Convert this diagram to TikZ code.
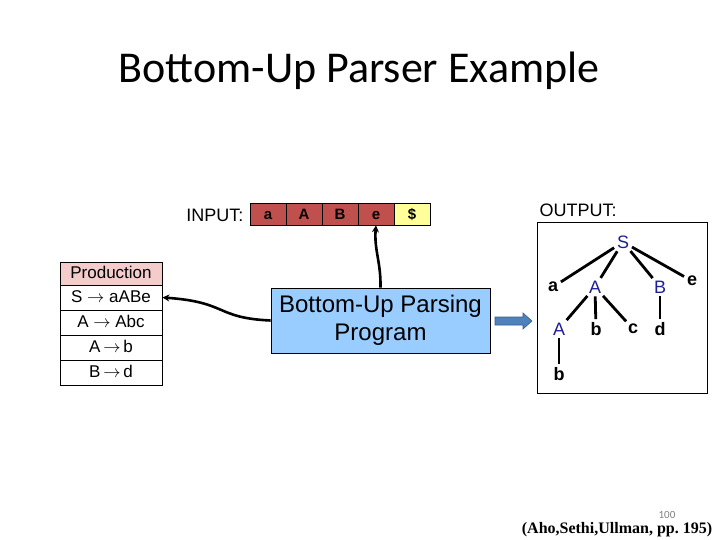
\documentclass[tikz,border=0pt]{standalone}
\usepackage{fontspec}
\setmainfont{Liberation Sans}
\newfontfamily\titlefont{Carlito}
\newfontfamily\citefont{Liberation Serif}
\usetikzlibrary{arrows.meta}
\definecolor{cellred}{RGB}{192,80,77}
\definecolor{cellyel}{RGB}{255,255,153}
\definecolor{hdrpink}{RGB}{244,204,204}
\definecolor{progblue}{RGB}{153,204,255}
\definecolor{arrblue}{RGB}{79,129,189}
\definecolor{arrdark}{RGB}{56,93,138}
\definecolor{ntnavy}{RGB}{30,30,150}
\tikzset{
  cell/.style={draw, line width=0.6pt, minimum width=36pt, minimum height=22pt, inner sep=0pt, text height=10.5pt, text depth=0pt, font=\fontsize{15}{16}\selectfont\bfseries},
  prow/.style={draw, line width=0.8pt, minimum width=102pt, minimum height=25pt, inner sep=0pt, text height=12.5pt, text depth=3pt, font=\fontsize{17}{19}\selectfont},
  conn/.style={line width=2.6pt, -{Stealth[length=7pt,width=7pt]}},
  nt/.style={text=ntnavy, inner sep=1pt, font=\fontsize{18}{19}\selectfont},
  tm/.style={text=black, inner sep=1pt, font=\fontsize{18}{19}\selectfont\bfseries},
  tedge/.style={line width=2.8pt, shorten <=2pt, shorten >=2pt}
}
\begin{document}
\begin{tikzpicture}[x=1pt,y=-1pt]
\useasboundingbox (0,0) rectangle (720,540);
% title
\node[font=\titlefont\fontsize{44}{48}\selectfont, anchor=base] (title) at (359,83) {Bottom-Up Parser Example};
% input
\node[anchor=east, font=\fontsize{18}{19}\selectfont] (inlbl) at (247,215) {INPUT:};
\node[cell, fill=cellred] (ia) at (268,214) {a};
\node[cell, fill=cellred] (iA) at (304,214) {A};
\node[cell, fill=cellred] (iB) at (340,214) {B};
\node[cell, fill=cellred] (ie) at (376,214) {e};
\node[cell, fill=cellyel] (id) at (412,214) {\$};
% production table
\node[prow, fill=hdrpink, minimum height=23pt] (hdr) at (111,273.5) {Production};
\node[prow] (r1) at (111,297.5) {S $\rightarrow$ aABe};
\node[prow] (r2) at (111,322.5) {A $\rightarrow$ Abc};
\node[prow] (r3) at (111,347.5) {A\,$\rightarrow$\,b};
\node[prow] (r4) at (111,372.5) {B\,$\rightarrow$\,d};
% program
\node[draw, line width=0.8pt, fill=progblue, minimum width=219pt, minimum height=65pt, align=center, inner sep=0pt,
  font=\fontsize{24}{28}\selectfont] (prog) at (380.5,320.5) {Bottom-Up Parsing\\Program};
\draw[conn] (prog.north) .. controls (381,262) and (374,250) .. (ie.south);
\draw[conn] (prog.west) .. controls (215,318) and (228,302) .. (r1.east);
% blue block arrow
\filldraw[fill=arrblue, draw=arrdark, line width=0.6pt] (495,317) -- (523,317) -- (523,313) -- (532,321) -- (523,329) -- (523,325) -- (495,325) -- cycle;
% output
\node[anchor=west, font=\fontsize{18}{19}\selectfont] (outlbl) at (536,210) {OUTPUT:};
\draw[line width=1pt] (537,223) rectangle (707,393);
\node[nt] (S) at (623,242) {S};
\node[tm] (a) at (553,287) {a};
\node[nt] (A1) at (595,287) {A};
\node[nt] (B) at (660,287) {B};
\node[tm] (e) at (692,281) {e};
\node[nt] (A2) at (559,329) {A};
\node[tm] (b1) at (596,329) {b};
\node[tm] (c) at (633,329) {c};
\node[tm] (d) at (660,329) {d};
\node[tm] (b2) at (559,374) {b};
\draw[tedge] (S) -- (a);
\draw[tedge] (S) -- (A1);
\draw[tedge] (S) -- (B);
\draw[tedge] (S) -- (e);
\draw[tedge] (A1) -- (A2);
\draw[tedge] (A1) -- (b1);
\draw[tedge] (A1) -- (c);
\draw[tedge] (B) -- (d);
\draw[tedge] (A2) -- (b2);
% footer
\node[text=gray, inner sep=0pt, anchor=base, font=\titlefont\fontsize{11}{12}\selectfont] (pg) at (667,518) {100};
\node[inner sep=0pt, anchor=base, font=\citefont\bfseries\fontsize{16}{18}\selectfont] (cite) at (617,533) {(Aho,Sethi,Ullman, pp.\ 195)};
\end{tikzpicture}
\end{document}
